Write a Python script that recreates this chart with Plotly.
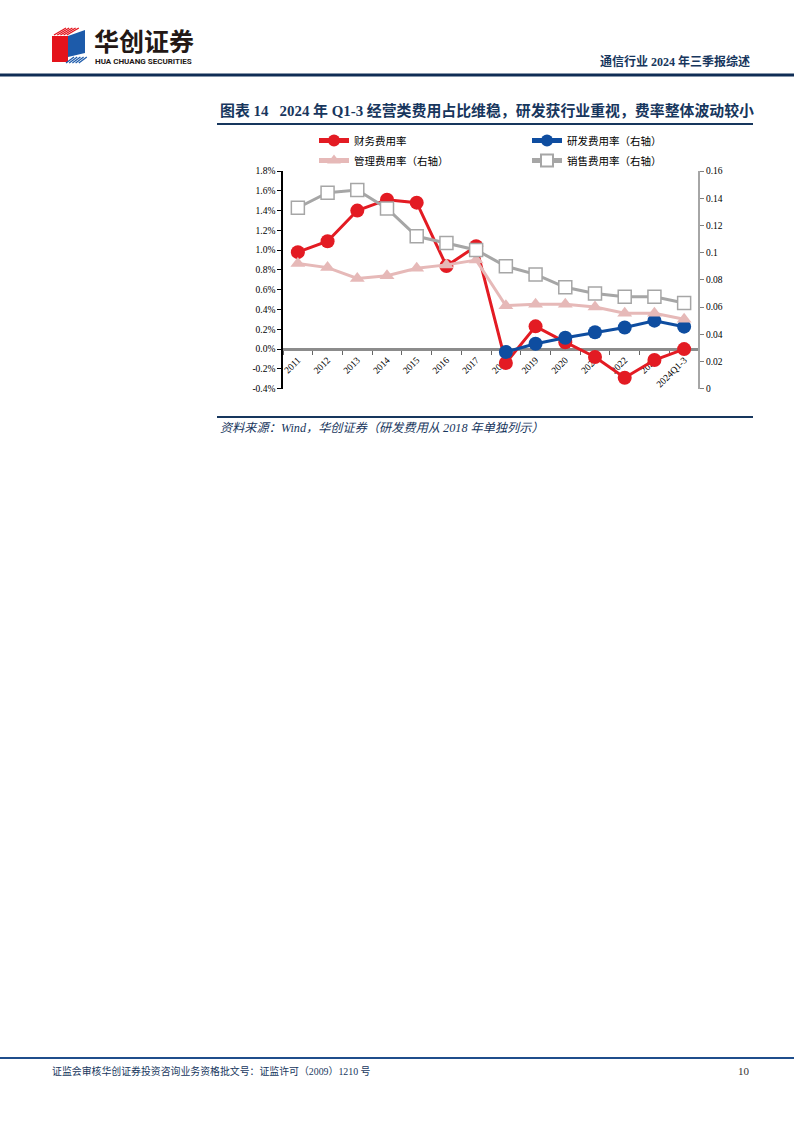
import plotly.graph_objects as go

W, H = 794, 1123

categories = ["2011", "2012", "2013", "2014", "2015", "2016", "2017",
              "2018", "2019", "2020", "2021", "2022", "2023", "2024Q1-3"]
# 财务费用率 (left axis, %)
finance = [0.98, 1.09, 1.40, 1.51, 1.48, 0.84, 1.04,
           -0.14, 0.23, 0.07, -0.08, -0.29, -0.11, 0.00]
# 研发费用率 (right axis), from 2018
rnd_cats = ["2018", "2019", "2020", "2021", "2022", "2023", "2024Q1-3"]
rnd = [0.027, 0.033, 0.0375, 0.0415, 0.045, 0.050, 0.0456]
# 管理费用率 (right axis)
admin = [0.092, 0.089, 0.081, 0.083, 0.0885, 0.091, 0.0945,
         0.061, 0.062, 0.062, 0.060, 0.0555, 0.0555, 0.051]
# 销售费用率 (right axis)
sales = [0.133, 0.144, 0.146, 0.1325, 0.112, 0.107, 0.102,
         0.090, 0.084, 0.0745, 0.070, 0.0675, 0.0675, 0.063]

left_ticks = [-0.4, -0.2, 0.0, 0.2, 0.4, 0.6, 0.8, 1.0, 1.2, 1.4, 1.6, 1.8]
right_ticks = [0, 0.02, 0.04, 0.06, 0.08, 0.1, 0.12, 0.14, 0.16]
right_labels = ["0", "0.02", "0.04", "0.06", "0.08", "0.1", "0.12", "0.14", "0.16"]

NAVY = "#17365D"
RED = "#E31B23"
BLUE = "#0E4DA0"
PINK = "#E6B9B8"
GRAY = "#A6A6A6"
SERIF = "Liberation Serif, Noto Sans CJK SC"
CJK = "Noto Sans CJK SC"


def px(x):
    return x / W


def py(y):
    return 1 - y / H


# plot area in pixels
X0, X1 = 283, 699
Y_TOP, Y_BOT = 171, 388.7
ymin, ymax = -0.4, 1.8
zero_frac = py(Y_BOT) + (0 - ymin) / (ymax - ymin) * (py(Y_TOP) - py(Y_BOT))

fig = go.Figure()

fig.add_trace(go.Scatter(
    x=categories, y=finance, name="财务费用率", mode="lines+markers",
    line=dict(color=RED, width=3), marker=dict(symbol="circle", size=14, color=RED),
    legend="legend", yaxis="y"))
fig.add_trace(go.Scatter(
    x=rnd_cats, y=rnd, name="研发费用率（右轴）", mode="lines+markers",
    line=dict(color=BLUE, width=3), marker=dict(symbol="circle", size=14, color=BLUE),
    legend="legend", yaxis="y2"))
fig.add_trace(go.Scatter(
    x=categories, y=admin, name="管理费用率（右轴）", mode="lines+markers",
    line=dict(color=PINK, width=3), marker=dict(symbol="triangle-up", size=13, color=PINK),
    legend="legend2", yaxis="y2"))
fig.add_trace(go.Scatter(
    x=categories, y=sales, name="销售费用率（右轴）", mode="lines+markers",
    line=dict(color=GRAY, width=3),
    marker=dict(symbol="square", size=13, color="white", line=dict(color=GRAY, width=1.5)),
    legend="legend2", yaxis="y2"))

shapes = []
# header line
shapes.append(dict(type="line", xref="paper", yref="paper", x0=0, x1=1, y0=py(75), y1=py(75),
                   line=dict(color="#0F2D55", width=3)))
# title underline
shapes.append(dict(type="line", xref="paper", yref="paper", x0=px(217), x1=px(753), y0=py(124), y1=py(124),
                   line=dict(color=NAVY, width=2)))
# source line
shapes.append(dict(type="line", xref="paper", yref="paper", x0=px(217), x1=px(753), y0=py(417), y1=py(417),
                   line=dict(color=NAVY, width=2)))
# footer line
shapes.append(dict(type="line", xref="paper", yref="paper", x0=0, x1=1, y0=py(1058), y1=py(1058),
                   line=dict(color="#1F4E8C", width=2)))
# logo
shapes.append(dict(type="path", xref="paper", yref="paper",
                   path=f"M {px(52)},{py(36)} L {px(68)},{py(36)} L {px(68)},{py(62)} L {px(52)},{py(62)} Z",
                   fillcolor="#E4131B", line=dict(width=0)))
shapes.append(dict(type="path", xref="paper", yref="paper",
                   path=f"M {px(68)},{py(36)} L {px(85)},{py(30)} L {px(85)},{py(53)} L {px(68)},{py(57)} Z",
                   fillcolor="#1D5BAA", line=dict(width=0)))
for i in range(5):
    o = i * 3.2
    shapes.append(dict(type="line", xref="paper", yref="paper",
                       x0=px(54 + o), y0=py(35), x1=px(66 + o), y1=py(28),
                       line=dict(color="#E4131B", width=1.3)))
    shapes.append(dict(type="line", xref="paper", yref="paper",
                       x0=px(66 + o), y0=py(63), x1=px(74 + o), y1=py(57),
                       line=dict(color="#1D5BAA", width=1.3)))

annotations = []
annotations.append(dict(text="<b>华创证券</b>", x=px(92), y=py(40), xref="paper", yref="paper",
                        xanchor="left", yanchor="middle", showarrow=False,
                        font=dict(family=CJK, size=25, color="#231815")))
annotations.append(dict(text="<b>HUA CHUANG SECURITIES</b>", x=px(93), y=py(61.5), xref="paper", yref="paper",
                        xanchor="left", yanchor="middle", showarrow=False,
                        font=dict(family="Roboto", size=8, color="#231815")))
annotations.append(dict(text="<b>通信行业 2024 年三季报综述</b>", x=px(752), y=py(62), xref="paper", yref="paper",
                        xanchor="right", yanchor="middle", showarrow=False,
                        font=dict(family=SERIF, size=12, color=NAVY)))
annotations.append(dict(text="<b>图表 14   2024 年 Q1-3 经营类费用占比维稳，研发获行业重视，费率整体波动较小</b>",
                        x=px(218), y=py(111), xref="paper", yref="paper",
                        xanchor="left", yanchor="middle", showarrow=False,
                        font=dict(family=SERIF, size=14.9, color=NAVY)))
annotations.append(dict(text="<i>资料来源：Wind，华创证券（研发费用从 2018 年单独列示）</i>",
                        x=px(218), y=py(428), xref="paper", yref="paper",
                        xanchor="left", yanchor="middle", showarrow=False,
                        font=dict(family=SERIF, size=12.2, color=NAVY)))
annotations.append(dict(text="证监会审核华创证券投资咨询业务资格批文号：证监许可（2009）1210 号",
                        x=px(50), y=py(1071), xref="paper", yref="paper",
                        xanchor="left", yanchor="middle", showarrow=False,
                        font=dict(family=SERIF, size=9.9, color="#17375E")))
annotations.append(dict(text="10", x=px(752), y=py(1071), xref="paper", yref="paper",
                        xanchor="right", yanchor="middle", showarrow=False,
                        font=dict(family=SERIF, size=11, color="#333333")))

tickfont = dict(family=SERIF, size=9.5, color="#000000")

fig.update_layout(
    width=W, height=H,
    margin=dict(l=0, r=0, t=0, b=0, pad=0, autoexpand=False),
    paper_bgcolor="white", plot_bgcolor="white",
    showlegend=True,
    legend=dict(orientation="h", x=px(314), y=py(126), xanchor="left", yanchor="top",
                entrywidth=168, entrywidthmode="pixels", itemsizing="constant",
                font=dict(family=CJK, size=10.5, color="#000000"), bgcolor="rgba(0,0,0,0)",
                itemwidth=30, tracegroupgap=0),
    legend2=dict(orientation="h", x=px(314), y=py(146), xanchor="left", yanchor="top",
                 entrywidth=168, entrywidthmode="pixels", itemsizing="constant",
                 font=dict(family=CJK, size=10.5, color="#000000"), bgcolor="rgba(0,0,0,0)",
                 itemwidth=30, tracegroupgap=0),
    xaxis=dict(domain=[px(X0), px(X1)], type="category", categoryorder="array",
               categoryarray=categories, range=[-0.5, len(categories) - 0.5],
               anchor="free", position=zero_frac,
               showline=True, linecolor="#8C8C8C", linewidth=2.5,
               ticks="outside", tickson="boundaries", ticklen=4, tickcolor="#666666",
               tickangle=-45, tickfont=tickfont, showgrid=False, zeroline=False,
               layer="below traces", automargin=False),
    yaxis=dict(domain=[py(Y_BOT), py(Y_TOP)], range=[ymin, ymax], anchor="x",
               tickvals=left_ticks, ticktext=[f"{v:.1f}%" for v in left_ticks],
               showline=True, linecolor="#000000", linewidth=1.5,
               ticks="outside", ticklen=4, tickcolor="#000000",
               tickfont=tickfont, showgrid=False, zeroline=False, automargin=False),
    yaxis2=dict(domain=[py(Y_BOT), py(Y_TOP)], range=[0, 0.16], overlaying="y", side="right",
                anchor="free", position=px(X1),
                tickvals=right_ticks, ticktext=right_labels,
                showline=True, linecolor="#A6A6A6", linewidth=2,
                ticks="outside", ticklen=4, tickcolor="#808080",
                tickfont=tickfont, showgrid=False, zeroline=False, automargin=False),
    shapes=shapes,
    annotations=annotations,
)

fig.write_html("out.html")
